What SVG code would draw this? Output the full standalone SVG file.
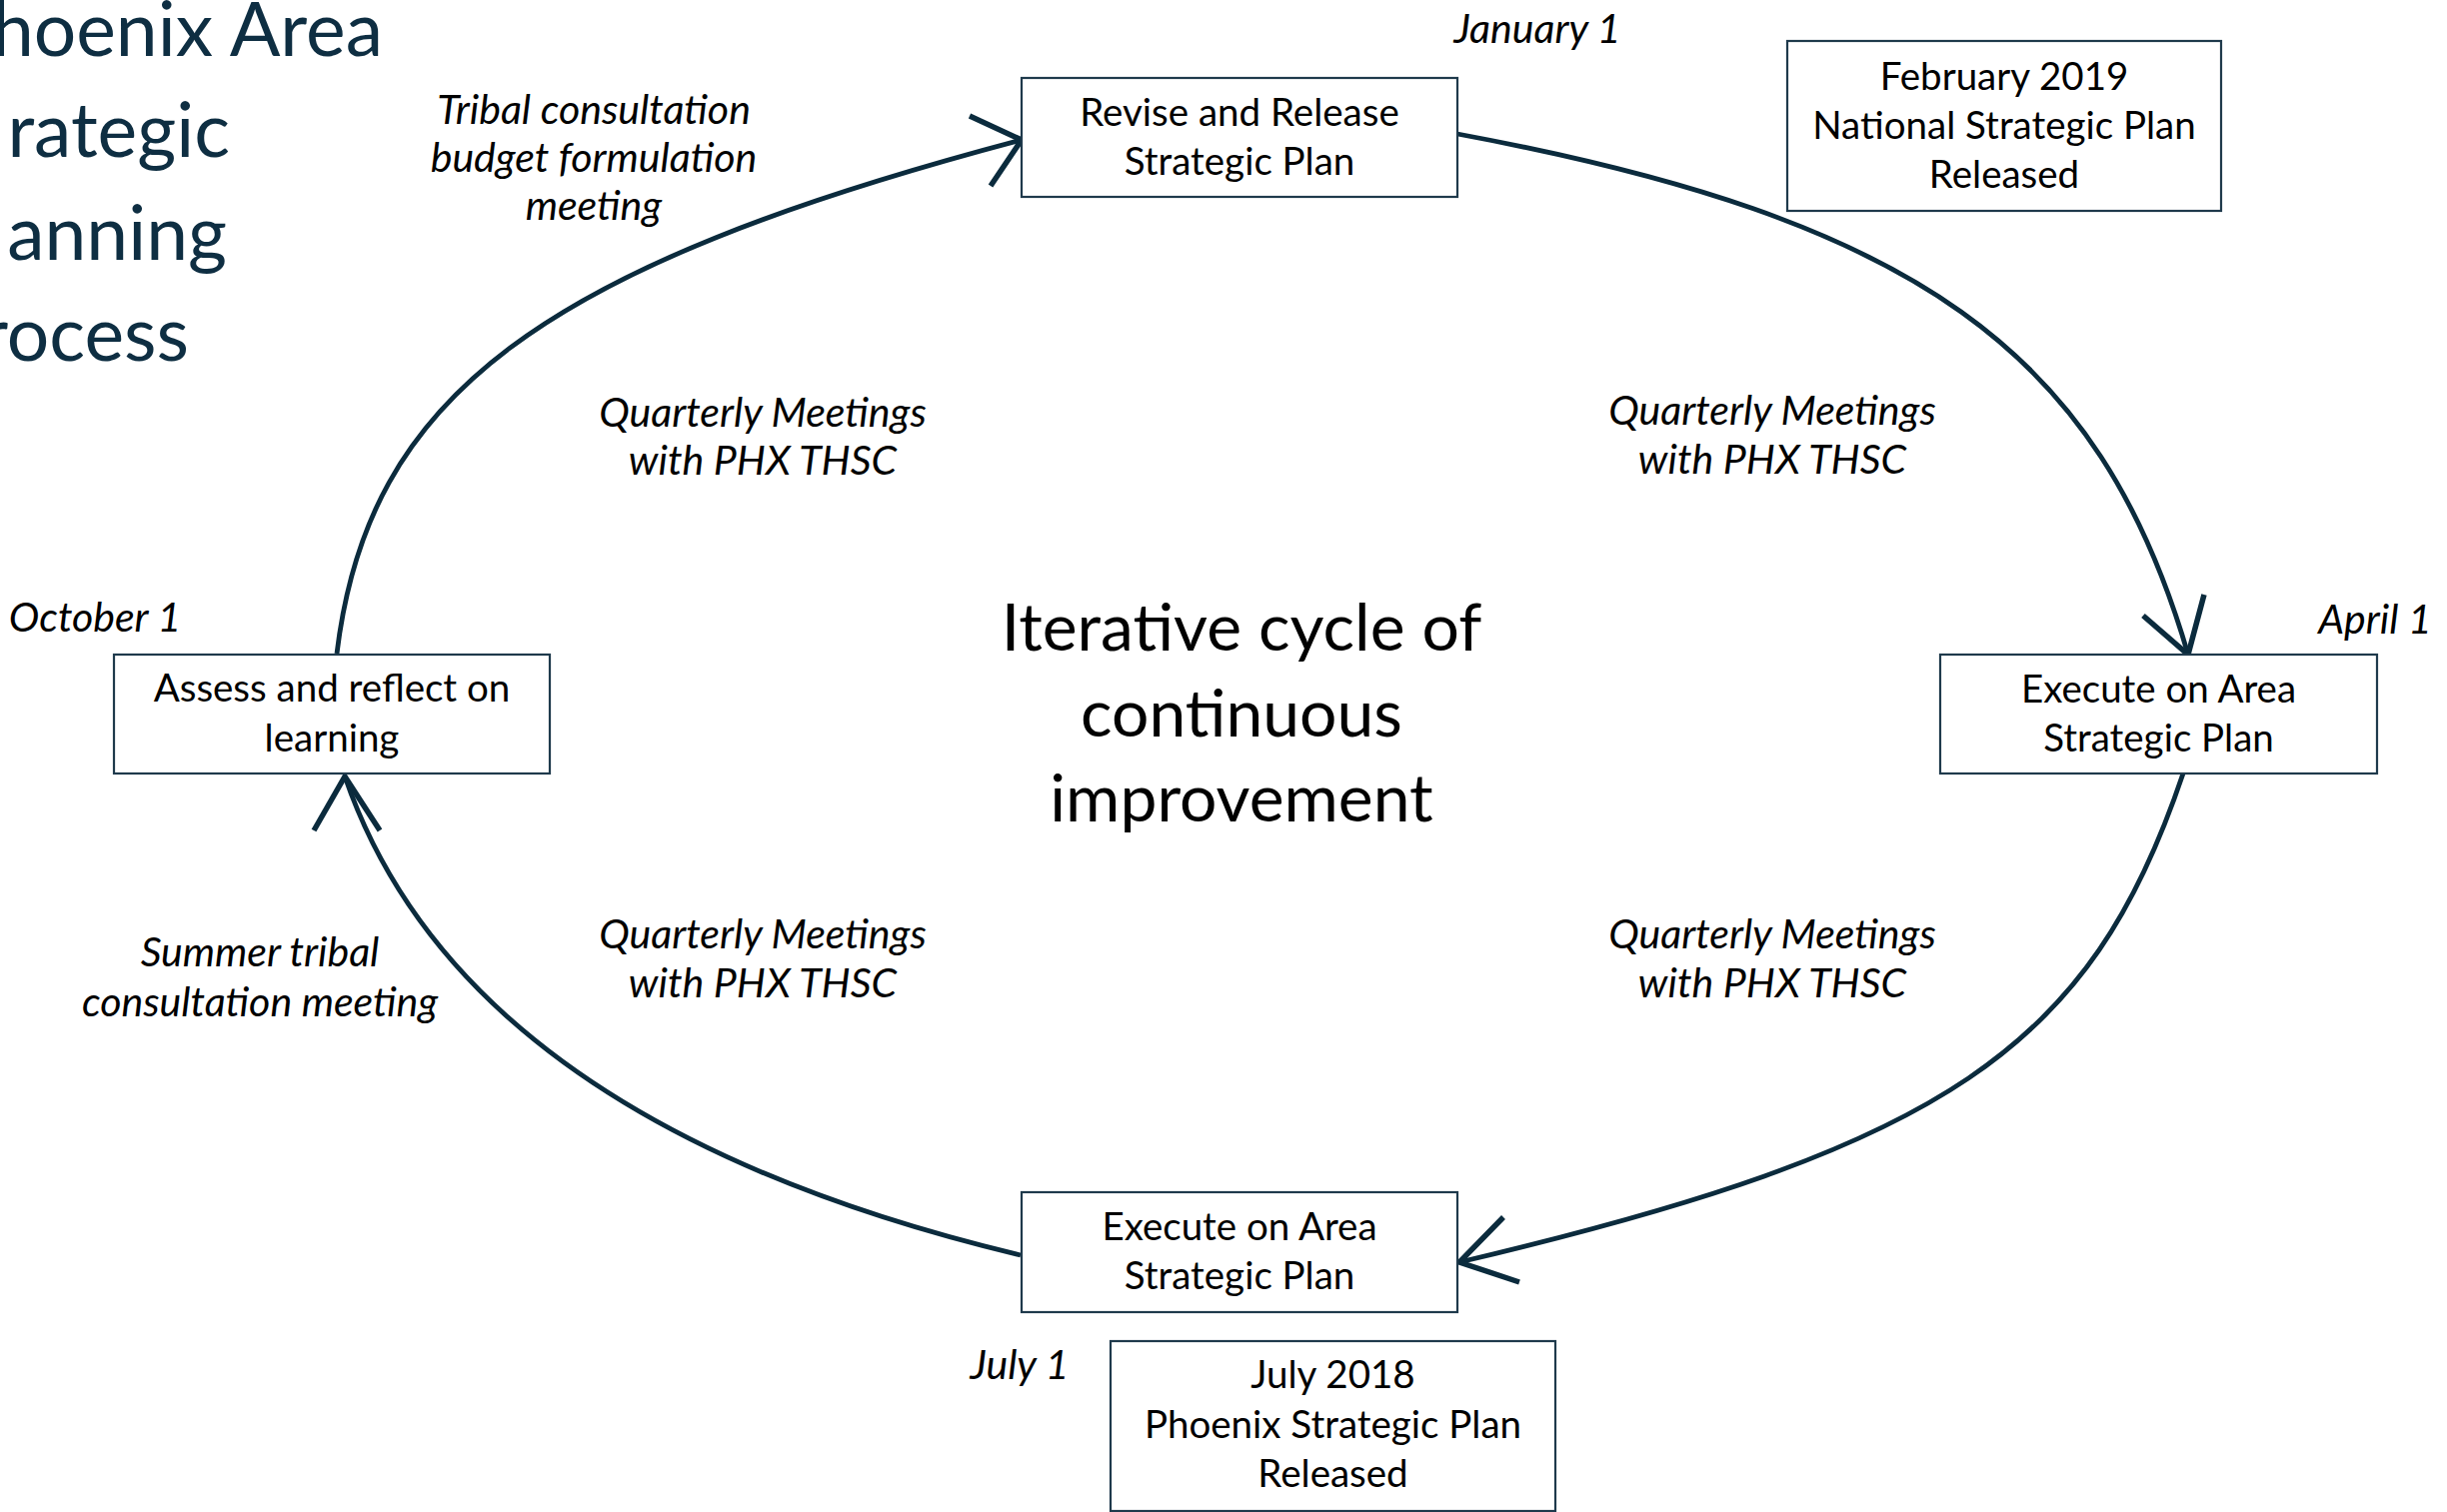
<svg xmlns="http://www.w3.org/2000/svg" width="2448" height="1513" viewBox="0 0 2448 1513">
<style>
.box{fill:#ffffff;stroke:#1f3a4c;stroke-width:2.2}
.t{font-family:Lato,"Open Sans","Liberation Sans",sans-serif;font-size:38.5px;fill:#000;text-anchor:middle}
.i{font-family:Lato,"Open Sans","Liberation Sans",sans-serif;font-size:41px;font-style:italic;fill:#000;text-anchor:middle}
.title{font-family:Lato,"Open Sans","Liberation Sans",sans-serif;font-size:75px;fill:#0e2e42;text-anchor:end}
.center{font-family:Lato,"Open Sans","Liberation Sans",sans-serif;font-size:66px;fill:#000;text-anchor:middle}
.arc{fill:none;stroke:#0b2b3d;stroke-width:4.8}
.head{fill:none;stroke:#0b2b3d;stroke-width:5.5;stroke-linejoin:miter}
</style>
<rect width="2448" height="1513" fill="#ffffff"/>
<g id="title">
<text class="title" x="383" y="56">hoenix Area</text>
<text class="title" x="230" y="157">rategic</text>
<text class="title" x="227" y="260">anning</text>
<text class="title" x="189" y="361">rocess</text>
</g>
<g id="connectors">
<path class="arc" d="M1458,134 C1917,219.5 2100,350 2189,655"/>
<polyline class="head" points="2144,616 2189,655 2205,595"/>
<path class="arc" d="M2184,774 C2091,1050 1946,1148 1460,1263"/>
<polyline class="head" points="1504,1218 1460,1263 1520,1283"/>
<path class="arc" d="M1021,1256 C652,1168 425,1010 345,777"/>
<polyline class="head" points="314,831 345,777 380,831"/>
<path class="arc" d="M337,654 C368,396 539.4,267.8 1022,140"/>
<polyline class="head" points="970,116 1022,140 991,186"/>
</g>
<g id="node-revise">
<rect class="box" x="1022" y="78" width="436" height="119"/>
<text class="t" x="1240" y="126">Revise and Release</text>
<text class="t" x="1240" y="175">Strategic Plan</text>
</g>
<g id="node-feb2019">
<rect class="box" x="1788" y="41" width="434" height="170"/>
<text class="t" x="2005" y="90">February 2019</text>
<text class="t" x="2005" y="139">National Strategic Plan</text>
<text class="t" x="2005" y="188">Released</text>
</g>
<g id="node-execute-april">
<rect class="box" x="1941" y="655" width="437" height="119"/>
<text class="t" x="2159.5" y="703">Execute on Area</text>
<text class="t" x="2159.5" y="752">Strategic Plan</text>
</g>
<g id="node-assess">
<rect class="box" x="114" y="655" width="436" height="119"/>
<text class="t" x="332" y="702">Assess and reflect on</text>
<text class="t" x="332" y="752">learning</text>
</g>
<g id="node-execute-july">
<rect class="box" x="1022" y="1193" width="436" height="120"/>
<text class="t" x="1240" y="1241">Execute on Area</text>
<text class="t" x="1240" y="1290">Strategic Plan</text>
</g>
<g id="node-july2018">
<rect class="box" x="1111" y="1342" width="445" height="170"/>
<text class="t" x="1333.5" y="1389">July 2018</text>
<text class="t" x="1333.5" y="1439">Phoenix Strategic Plan</text>
<text class="t" x="1333.5" y="1488">Released</text>
</g>
<g id="labels">
<text class="i" x="1538" y="43">January 1</text>
<text class="i" x="2376" y="634">April 1</text>
<text class="i" x="95" y="632">October 1</text>
<text class="i" x="1020" y="1380">July 1</text>
<text class="i" x="594" y="124">Tribal consultation</text>
<text class="i" x="594" y="172">budget formulation</text>
<text class="i" x="594" y="220">meeting</text>
<text class="i" x="260" y="967">Summer tribal</text>
<text class="i" x="260" y="1017">consultation meeting</text>
<text class="i" x="763" y="427">Quarterly Meetings</text>
<text class="i" x="763" y="475">with PHX THSC</text>
<text class="i" x="1773" y="425">Quarterly Meetings</text>
<text class="i" x="1773" y="474">with PHX THSC</text>
<text class="i" x="763" y="949">Quarterly Meetings</text>
<text class="i" x="763" y="998">with PHX THSC</text>
<text class="i" x="1773" y="949">Quarterly Meetings</text>
<text class="i" x="1773" y="998">with PHX THSC</text>
</g>
<g id="center-text">
<text class="center" x="1242" y="651">Iterative cycle of</text>
<text class="center" x="1242" y="737">continuous</text>
<text class="center" x="1242" y="822">improvement</text>
</g>
</svg>
